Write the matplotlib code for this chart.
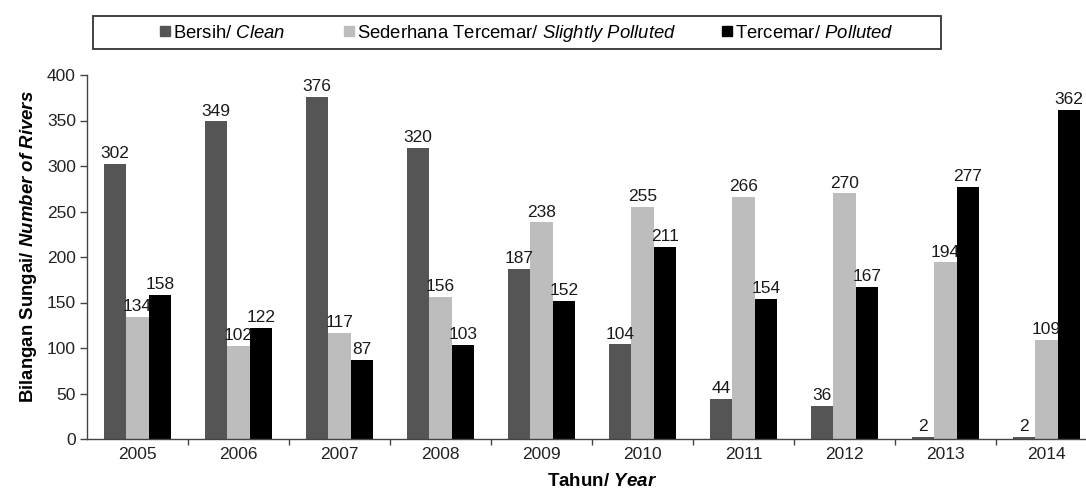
import matplotlib
matplotlib.use("Agg")
import matplotlib.pyplot as plt
from matplotlib.patches import Rectangle, Patch
import numpy as np

years = ["2005", "2006", "2007", "2008", "2009", "2010", "2011", "2012", "2013", "2014"]
clean = [302, 349, 376, 320, 187, 104, 44, 36, 2, 2]
slightly = [134, 102, 117, 156, 238, 255, 266, 270, 194, 109]
polluted = [158, 122, 87, 103, 152, 211, 154, 167, 277, 362]

plt.rcParams['font.family'] = ['Liberation Sans', 'DejaVu Sans']
plt.rcParams['mathtext.fontset'] = 'custom'
plt.rcParams['mathtext.rm'] = 'Liberation Sans'
plt.rcParams['mathtext.it'] = 'Liberation Sans:italic'
plt.rcParams['mathtext.bf'] = 'Liberation Sans:bold'
plt.rcParams['mathtext.bfit'] = 'Liberation Sans:italic:bold'

W, H = 1086, 492
fig = plt.figure(figsize=(W / 100, H / 100), dpi=100)
ax = fig.add_axes([87 / W, 1 - 439 / H, 1010 / W, (439 - 75) / H])

x = np.arange(len(years))
bw = 0.223
colors = ['#555555', '#bdbdbd', '#000000']
series = [clean, slightly, polluted]
for i, (vals, c) in enumerate(zip(series, colors)):
    bars = ax.bar(x + (i - 1) * bw, vals, width=bw, color=c, edgecolor='none')
    for b, v in zip(bars, vals):
        ax.annotate(str(v), (b.get_x() + b.get_width() / 2, v), xytext=(0, 2),
                    textcoords='offset points', ha='center', va='bottom',
                    fontsize=12.5, color='#1a1a1a')

ax.set_xlim(-0.5, len(years) - 0.5)
ax.set_ylim(0, 400)
ax.set_yticks(np.arange(0, 401, 50))
ax.set_xticks(x)
ax.set_xticklabels(years)
ax.set_xticks(np.arange(0.5, len(years) - 0.5, 1), minor=True)
ax.tick_params(axis='x', which='major', length=0, pad=6, labelsize=12.5, labelcolor='#222222')
ax.tick_params(axis='x', which='minor', length=4, width=1, color='#444444', direction='out')
ax.tick_params(axis='y', length=5, width=1, color='#444444', labelsize=12.5,
               labelcolor='#222222', pad=3)
for s in ['top', 'right']:
    ax.spines[s].set_visible(False)
for s in ['left', 'bottom']:
    ax.spines[s].set_color('#444444')
    ax.spines[s].set_linewidth(1)

ax.set_ylabel(r"Bilangan Sungai/ $\mathbfit{Number\ of\ Rivers}$", fontsize=13.4,
              fontweight='bold')
ax.yaxis.set_label_coords(-48 / 1010, (439 - 247) / 364)
fig.text(602 / W, 1 - 481 / H, r"Tahun/ $\mathbfit{Year}$", fontsize=13.5,
         fontweight='bold', ha='center', va='center')

# legend: three entries at their own positions
labels = [r"Bersih/ $\it{Clean}$", r"Sederhana Tercemar/ $\it{Slightly\ Polluted}$",
          r"Tercemar/ $\it{Polluted}$"]
entry_x = [160, 344, 722]
for c, lab, ex in zip(colors, labels, entry_x):
    fig.legend([Patch(color=c)], [lab], loc='center left',
               bbox_to_anchor=(ex / W, 1 - 33 / H), frameon=False,
               fontsize=13.3, handlelength=0.52, handleheight=0.52,
               handletextpad=0.2, borderpad=0, borderaxespad=0)
fig.patches.append(Rectangle((93 / W, 1 - 48.5 / H), (941 - 93) / W, 32 / H,
                             transform=fig.transFigure, fill=False,
                             edgecolor='#333333', linewidth=1.3))

fig.savefig("out.png", dpi=100)
